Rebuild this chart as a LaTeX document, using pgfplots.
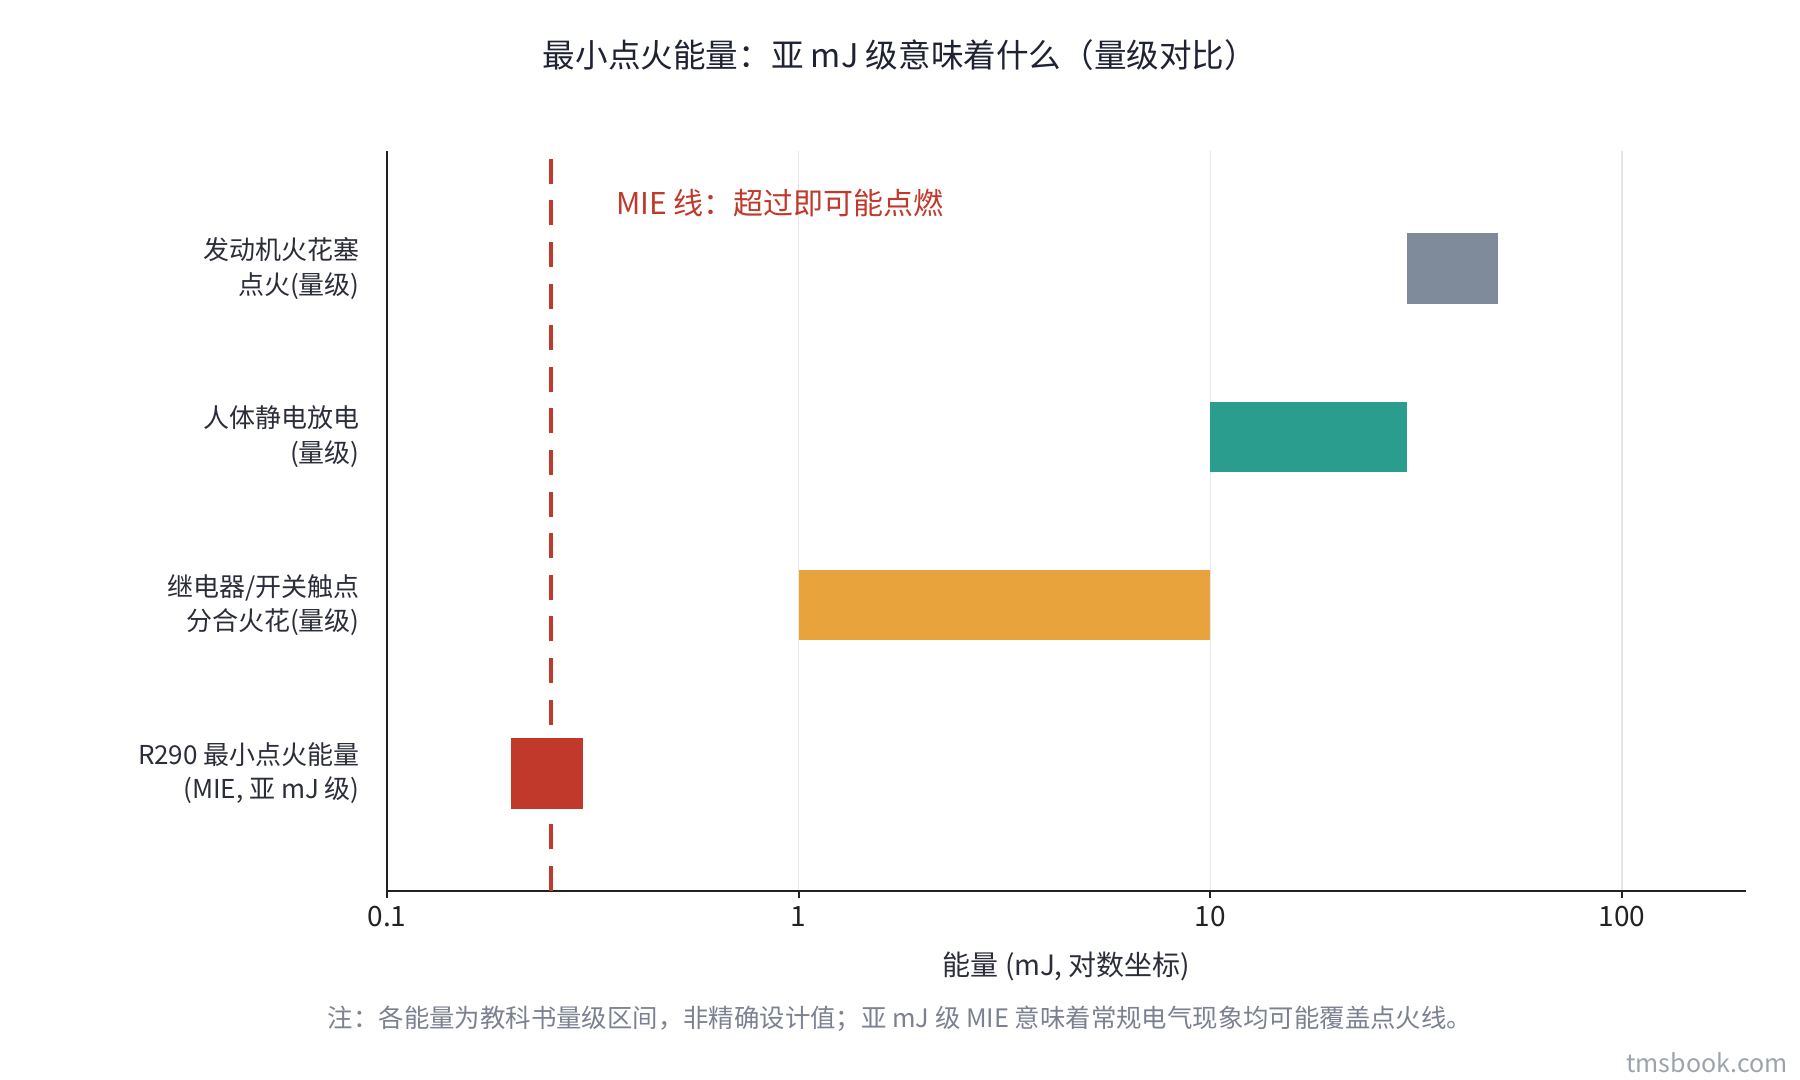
\documentclass[border=0pt]{standalone}
\usepackage{fontspec}
\setmainfont{Noto Sans CJK SC}
\usepackage{pgfplots}
\pgfplotsset{compat=1.18}

\definecolor{titlec}{HTML}{1F2233}
\definecolor{labelc}{HTML}{2B2D3A}
\definecolor{notec}{HTML}{7B8190}
\definecolor{markc}{HTML}{9CA3AD}
\definecolor{gridc}{HTML}{E6E6E6}
\definecolor{axisc}{HTML}{222222}
\definecolor{cred}{HTML}{C0392B}
\definecolor{corange}{HTML}{E8A33D}
\definecolor{cteal}{HTML}{2A9D8F}
\definecolor{cgray}{HTML}{7F8A9A}

\begin{document}
\begin{tikzpicture}
\useasboundingbox (0,0) rectangle (900pt,540pt);

\node[text=titlec, font=\fontsize{16.3}{16.3}\selectfont] at (450pt,512.5pt)
  {最小点火能量：亚 mJ 级意味着什么（量级对比）};

\begin{axis}[
    at={(193.5pt,94.5pt)}, anchor=south west,
    scale only axis, width=679.5pt, height=370pt,
    xmode=log, xmin=0.1, xmax=200,
    ymin=-0.7, ymax=3.7,
    axis x line*=bottom, axis y line*=left,
    axis line style={-, draw=axisc, line width=1.1pt},
    xtick={0.1,1,10,100}, xticklabels={0.1,1,10,100},
    xminorticks=false,
    xmajorgrids, grid style={draw=gridc, line width=0.8pt},
    tick align=outside, major tick length=3.5pt,
    xtick style={draw=axisc, line width=1pt},
    ytick={0,1,2,3},
    ytick style={draw=none},
    yticklabels={{R290 最小点火能量\\(MIE, 亚 mJ 级)},
                 {继电器/开关触点\\分合火花(量级)},
                 {人体静电放电\\(量级)},
                 {发动机火花塞\\点火(量级)}},
    yticklabel style={align=right, inner sep=0pt, xshift=-10pt,
                      text=labelc, font=\fontsize{13}{17.3}\selectfont},
    xticklabel style={anchor=center, yshift=-9.5pt, inner sep=0pt,
                      text=axisc, font=\fontsize{14}{14}\selectfont},
    /pgf/number format/assume math mode=true,
    xlabel={能量 (mJ, 对数坐标)},
    xlabel style={at={(axis description cs:0.5,0)}, anchor=center,
                  yshift=-37.5pt, text=labelc, font=\fontsize{14}{14}\selectfont},
    clip=false,
]
% bars: (low, high) on log scale, height 0.42
\addplot[fill=cred, draw=none] coordinates
  {(0.2,-0.21) (0.3,-0.21) (0.3,0.21) (0.2,0.21)} -- cycle;
\addplot[fill=corange, draw=none] coordinates
  {(1,0.79) (10,0.79) (10,1.21) (1,1.21)} -- cycle;
\addplot[fill=cteal, draw=none] coordinates
  {(10,1.79) (30,1.79) (30,2.21) (10,2.21)} -- cycle;
\addplot[fill=cgray, draw=none] coordinates
  {(30,2.79) (50,2.79) (50,3.21) (30,3.21)} -- cycle;

% MIE line
\addplot[cred, line width=2pt, dash pattern=on 12.5pt off 8.3pt]
  coordinates {(0.25,-0.7) (0.25,3.7)};

\node[anchor=west, inner sep=0pt, text=cred, font=\fontsize{15}{15}\selectfont]
  at (axis cs:0.36,3.39) {MIE 线：超过即可能点燃};
\end{axis}

\node[text=notec, font=\fontsize{12.7}{12.7}\selectfont] at (450pt,30.5pt)
  {注：各能量为教科书量级区间，非精确设计值；亚 mJ 级 MIE 意味着常规电气现象均可能覆盖点火线。};
\node[anchor=east, inner sep=0pt, text=markc, font=\fontsize{12.5}{12.5}\selectfont]
  at (894pt,8.5pt) {tmsbook.com};
\end{tikzpicture}
\end{document}
